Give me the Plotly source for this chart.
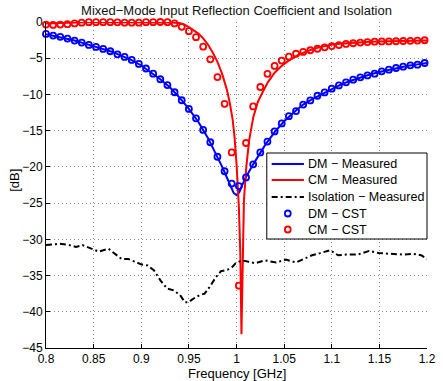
import plotly.graph_objects as go

# ---------------- data ----------------
x_ticks = [0.8, 0.85, 0.9, 0.95, 1.0, 1.05, 1.1, 1.15, 1.2]
x_tick_labels = ["0.8", "0.85", "0.9", "0.95", "1", "1.05", "1.1", "1.15", "1.2"]
y_ticks = [0, -5, -10, -15, -20, -25, -30, -35, -40, -45]

# CST simulation frequency grid (GHz)
cst_freq = [0.8, 0.8075, 0.815, 0.8225, 0.83, 0.8375, 0.845, 0.8525, 0.86, 0.8675,
            0.875, 0.8825, 0.89, 0.8975, 0.905, 0.9125, 0.92, 0.9275, 0.935, 0.9425,
            0.95, 0.9575, 0.965, 0.9725, 0.98, 0.9875, 0.995, 1.0025, 1.01, 1.0175,
            1.025, 1.0325, 1.04, 1.0475, 1.055, 1.0625, 1.07, 1.0775, 1.085, 1.0925,
            1.1, 1.1075, 1.115, 1.1225, 1.13, 1.1375, 1.145, 1.1525, 1.16, 1.1675,
            1.175, 1.1825, 1.19, 1.1975]

dm_cst = [-1.64, -1.87, -2.05, -2.29, -2.56, -2.84, -3.16, -3.44, -3.71, -4.04,
          -4.46, -4.82, -5.24, -5.79, -6.42, -7.13, -7.9, -8.7, -9.7, -10.8,
          -12.0, -13.3, -14.9, -16.6, -18.6, -20.6, -22.3, -22.65, -21.45, -19.65,
          -18.0, -16.5, -15.1, -14.0, -13.0, -12.3, -11.4, -10.83, -10.18, -9.72,
          -9.2, -8.75, -8.33, -7.96, -7.64, -7.37, -7.13, -6.81, -6.58, -6.35,
          -6.16, -5.98, -5.89, -5.66]

cm_cst = [-0.35, -0.4, -0.35, -0.3, -0.2, -0.1, -0.02, -0.02, -0.02, -0.03,
          -0.05, -0.1, -0.1, -0.1, -0.03, -0.02, 0.0, -0.02, -0.2, -0.67,
          -1.27, -2.1, -3.4, -5.15, -7.6, -11.3, -18.0, -36.4, -16.7, -11.66,
          -8.97, -7.15, -6.07, -5.33, -4.78, -4.38, -4.13, -3.9, -3.69, -3.49,
          -3.33, -3.19, -3.02, -2.93, -2.84, -2.77, -2.72, -2.68, -2.68, -2.66,
          -2.62, -2.6, -2.56, -2.52]

# Measured DM
dm_meas_freq = [0.8, 0.81, 0.82, 0.83, 0.84, 0.85, 0.86, 0.87, 0.88, 0.89,
                0.9, 0.91, 0.92, 0.93, 0.94, 0.95, 0.96, 0.97, 0.98, 0.985,
                0.99, 0.994, 0.997, 1.0, 1.003, 1.006, 1.01, 1.0175, 1.025, 1.03,
                1.04, 1.05, 1.06, 1.07, 1.08, 1.09, 1.1, 1.11, 1.12, 1.13,
                1.14, 1.15, 1.16, 1.17, 1.18, 1.19, 1.2]
dm_meas = [-1.7, -1.95, -2.2, -2.55, -2.95, -3.35, -3.7, -4.15, -4.7, -5.25,
           -6.0, -6.9, -7.9, -9.0, -10.4, -12.0, -13.8, -16.0, -18.6, -20.0,
           -21.5, -22.8, -23.6, -23.9, -23.5, -22.5, -21.4, -19.65, -18.0, -17.0,
           -15.2, -13.7, -12.5, -11.4, -10.6, -9.9, -9.25, -8.6, -8.1, -7.65,
           -7.25, -6.9, -6.6, -6.3, -6.05, -5.85, -5.65]

# Measured CM
cm_meas_freq = [0.8, 0.82, 0.84, 0.86, 0.88, 0.9, 0.92, 0.93, 0.94, 0.945,
                0.95, 0.955, 0.96, 0.965, 0.97, 0.975, 0.98, 0.985, 0.99, 0.993,
                0.996, 0.998, 1.0, 1.0025, 1.004, 1.0052, 1.0065, 1.0078, 1.0103, 1.0133,
                1.0177, 1.0225, 1.027, 1.033, 1.04, 1.047, 1.054, 1.064, 1.074, 1.088,
                1.105, 1.12, 1.14, 1.16, 1.18, 1.2]
cm_meas = [-0.2, -0.1, -0.05, -0.03, -0.03, -0.05, -0.05, -0.08, -0.15, -0.35,
           -0.7, -1.1, -1.6, -2.25, -3.1, -4.2, -5.5, -7.2, -9.4, -11.2,
           -13.5, -16.0, -19.5, -25.5, -32.0, -43.1, -32.0, -24.6, -20.0, -16.3,
           -13.1, -11.0, -9.8, -8.3, -7.0, -6.1, -5.4, -4.6, -4.04, -3.44,
           -3.02, -2.85, -2.72, -2.65, -2.6, -2.55]

# Measured isolation
iso_freq = [0.8, 0.8144, 0.8246, 0.8315, 0.8383, 0.8485, 0.8554, 0.8656, 0.8725, 0.8793,
            0.8862, 0.893, 0.8998, 0.9067, 0.9135, 0.9203, 0.9272, 0.934, 0.9408, 0.946,
            0.9494, 0.9546, 0.9613, 0.9665, 0.9716, 0.9785, 0.9836, 0.9905, 0.9956, 0.999,
            1.0058, 1.0126, 1.0195, 1.0297, 1.0417, 1.052, 1.0623, 1.0708, 1.0793, 1.0879,
            1.0982, 1.1067, 1.1152, 1.1272, 1.1392, 1.1494, 1.1631, 1.1751, 1.1853, 1.1938,
            1.2]
iso_meas = [-30.8, -30.6, -30.8, -31.05, -30.8, -31.3, -31.7, -31.3, -32.0, -32.7,
            -32.7, -33.1, -33.45, -33.6, -34.3, -35.7, -36.8, -37.05, -37.7, -38.7,
            -38.7, -38.2, -37.7, -37.5, -36.6, -35.2, -34.4, -34.2, -33.8, -33.3,
            -32.9, -33.1, -33.3, -32.9, -33.2, -32.8, -33.2, -32.7, -32.2, -31.9,
            -31.5, -32.2, -32.1, -32.1, -31.6, -31.9, -32.0, -32.1, -32.0, -32.2,
            -32.7]

series_names = ["DM − Measured", "CM − Measured", "Isolation − Measured", "DM − CST", "CM − CST"]

# ---------------- styling ----------------
FONT = "Liberation Sans, Arial, Helvetica, sans-serif"
BLUE = "rgb(0,0,255)"
RED = "rgb(255,0,0)"
ISO_DASH = "6px,3px,2px,3px"
W, H = 443, 381
ML, MR, MT, MB = 46, 7, 22, 33
PW, PH = W - ML - MR, H - MT - MB


def px_x(px):
    return (px - ML) / PW


def px_y(py):
    return (H - MB - py) / PH


fig = go.Figure()
fig.add_trace(go.Scatter(x=dm_meas_freq, y=dm_meas, mode="lines", name=series_names[0],
                         line=dict(color=BLUE, width=2)))
fig.add_trace(go.Scatter(x=cm_meas_freq, y=cm_meas, mode="lines", name=series_names[1],
                         line=dict(color=RED, width=2)))
fig.add_trace(go.Scatter(x=iso_freq, y=iso_meas, mode="lines", name=series_names[2],
                         line=dict(color="black", width=2, dash=ISO_DASH)))
fig.add_trace(go.Scatter(x=cst_freq, y=dm_cst, mode="markers", name=series_names[3],
                         marker=dict(symbol="circle-open", size=6, color=BLUE,
                                     line=dict(color=BLUE, width=1.8)),
                         cliponaxis=False))
fig.add_trace(go.Scatter(x=cst_freq, y=cm_cst, mode="markers", name=series_names[4],
                         marker=dict(symbol="circle-open", size=6, color=RED,
                                     line=dict(color=RED, width=1.8)),
                         cliponaxis=False))

axis_common = dict(
    showline=True, linecolor="black", linewidth=1, mirror=False,
    ticks="inside", ticklen=4, tickcolor="black", tickwidth=1,
    showgrid=True, gridcolor="#8a8a8a", gridwidth=1, griddash="1px,3px",
    zeroline=False, tickfont=dict(family=FONT, size=12, color="black"),
    ticklabeloverflow="allow",
)

# ---------------- legend (drawn as a MATLAB-style box) ----------------
shapes = [dict(type="rect", xref="paper", yref="paper",
               x0=px_x(272), x1=px_x(436), y0=px_y(239), y1=px_y(153),
               fillcolor="white", line=dict(color="black", width=1), layer="above")]
annotations = []
row_y = [164, 180, 197, 213.5, 229.5]
legend_styles = [("line", BLUE, None), ("line", RED, None), ("line", "black", ISO_DASH),
                 ("marker", BLUE, None), ("marker", RED, None)]
for name, ry, (kind, col, dash) in zip(series_names, row_y, legend_styles):
    if kind == "line":
        ln = dict(color=col, width=2)
        if dash:
            ln["dash"] = dash
        shapes.append(dict(type="line", xref="paper", yref="paper",
                           x0=px_x(277), x1=px_x(310), y0=px_y(ry), y1=px_y(ry),
                           line=ln, layer="above"))
    else:
        r = 3
        shapes.append(dict(type="circle", xref="paper", yref="paper",
                           x0=px_x(293.5 - r), x1=px_x(293.5 + r),
                           y0=px_y(ry + r), y1=px_y(ry - r),
                           line=dict(color=col, width=1.8), fillcolor="rgba(0,0,0,0)",
                           layer="above"))
    annotations.append(dict(text=name, xref="paper", yref="paper",
                            x=px_x(312), y=px_y(ry), xanchor="left", yanchor="middle",
                            showarrow=False,
                            font=dict(family=FONT, size=12.5, color="black")))

annotations += [
    dict(text="Frequency [GHz]", xref="paper", yref="paper", x=0.5, y=px_y(373),
         xanchor="center", yanchor="middle", showarrow=False,
         font=dict(family=FONT, size=13, color="black")),
    dict(text="[dB]", xref="paper", yref="paper", x=px_x(13), y=px_y(180),
         xanchor="center", yanchor="middle", textangle=-90, showarrow=False,
         font=dict(family=FONT, size=13, color="black")),
]

fig.update_layout(
    width=W, height=H,
    margin=dict(l=ML, r=MR, t=MT, b=MB),
    paper_bgcolor="white", plot_bgcolor="white",
    font=dict(family=FONT, size=12, color="black"),
    title=dict(text="Mixed−Mode Input Reflection Coefficient and Isolation",
               x=0.5, xref="paper", xanchor="center",
               y=1 - 10 / H, yref="container", yanchor="middle",
               font=dict(family=FONT, size=13, color="#111")),
    xaxis=dict(range=[0.8, 1.2], tickvals=x_ticks, ticktext=x_tick_labels, **axis_common),
    yaxis=dict(range=[-45, 0], tickvals=y_ticks, **axis_common),
    showlegend=False,
    shapes=shapes,
    annotations=annotations,
)

fig.write_html("out.html")
